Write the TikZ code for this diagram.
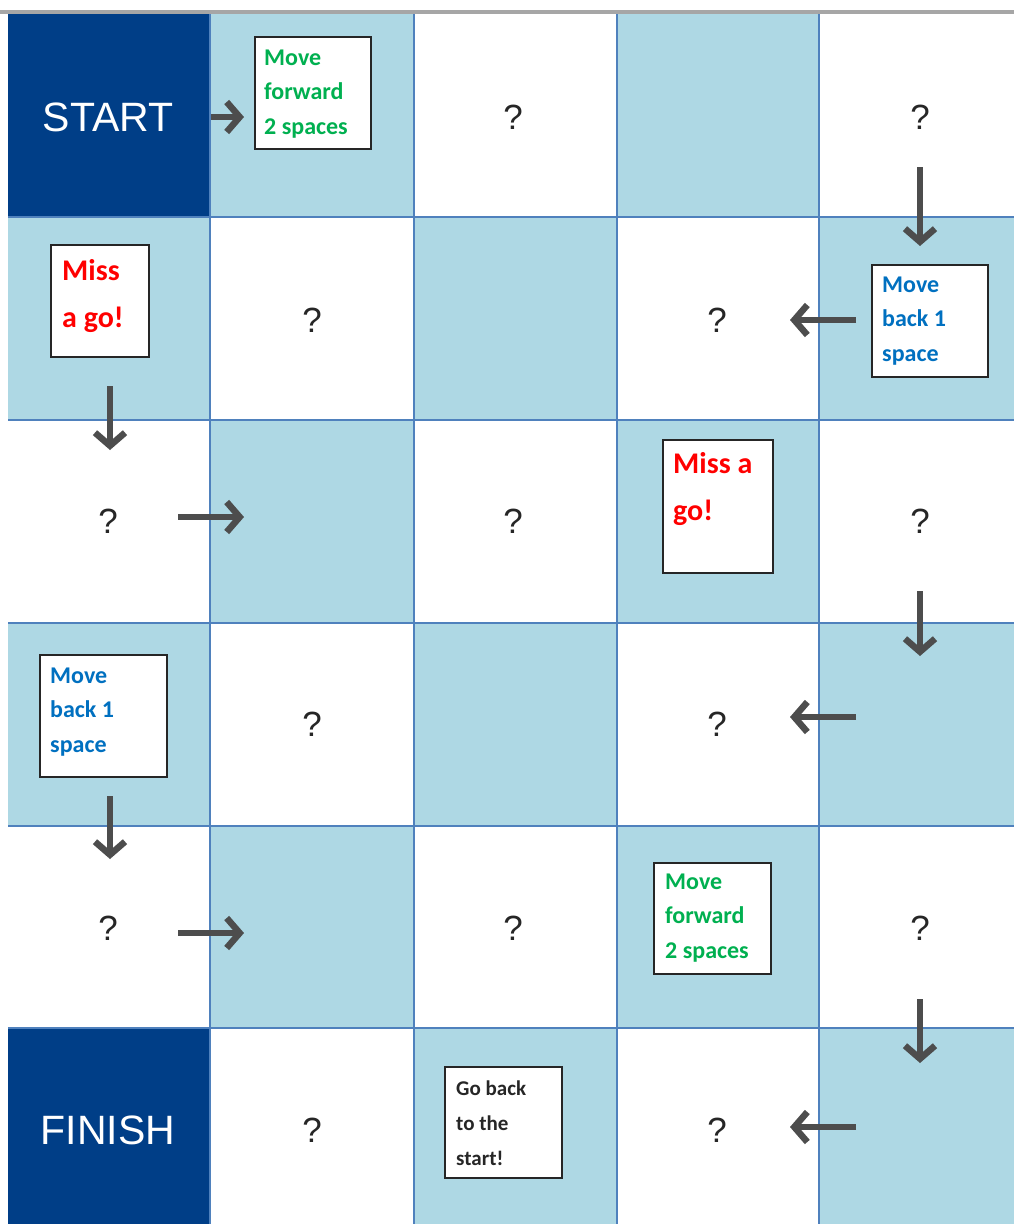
\documentclass[tikz,border=0pt]{standalone}
\usepackage{fontspec}
\setmainfont{Liberation Sans}
\newfontfamily\calfont{Carlito}[BoldFont={Carlito Bold}]
\usetikzlibrary{arrows.meta}
\definecolor{lightcell}{RGB}{174,216,228}
\definecolor{darkcell}{RGB}{0,62,135}
\definecolor{gridblue}{RGB}{79,129,189}
\definecolor{arrowgray}{RGB}{77,77,77}
\definecolor{cgreen}{RGB}{0,176,80}
\definecolor{cblue}{RGB}{0,112,192}
\definecolor{cred}{RGB}{255,0,0}
\tikzset{
  qmark/.style={font=\fontsize{35}{40}\selectfont, text=black!85, inner sep=0},
  endlabel/.style={font=\fontsize{41}{48}\selectfont, text=white, inner sep=0},
  cardbox/.style={draw=black!85, line width=2pt, fill=white, inner sep=0},
  cardtext/.style={anchor=base west, inner sep=0, text width=120pt, align=flush left,
    font=\calfont\bfseries\fontsize{24}{34.5}\selectfont},
  bigcard/.style={cardtext, font=\calfont\bfseries\fontsize{30}{47}\selectfont},
  movearrow/.style={draw=arrowgray, line width=6.5pt,
    -{Straight Barb[length=13pt, width=30pt]}}
}
\begin{document}
\begin{tikzpicture}[x=1pt, y=-1pt]
\useasboundingbox (0,0) rectangle (1014,1224);
\fill[white] (0,0) rectangle (1014,1224);
% light cells
\foreach \xa/\xb/\ya/\yb in {
  210/414/14/217, 617/819/14/217,
  8/210/217/420, 414/617/217/420, 819/1014/217/420,
  210/414/420/623, 617/819/420/623,
  8/210/623/826, 414/617/623/826, 819/1014/623/826,
  210/414/826/1028, 617/819/826/1028,
  414/617/1028/1224, 819/1014/1028/1224}
  \fill[lightcell] (\xa,\ya) rectangle (\xb,\yb);
% dark cells
\fill[darkcell] (8,14) rectangle (210,217);
\fill[darkcell] (8,1028) rectangle (210,1224);
% grid lines
\foreach \x in {210,414,617,819}
  \draw[gridblue, line width=1.5pt] (\x,14) -- (\x,1224);
\foreach \y in {217,420,623,826,1028}
  \draw[gridblue, line width=1.5pt] (8,\y) -- (1014,\y);
\draw[black!35, line width=3.5pt] (0,12) -- (1014,12);

% start / finish
\node[endlabel] (start) at (108,117) {START};
\node[endlabel] (finish) at (108,1130) {FINISH};

% question marks
\node[qmark] (q02) at (513,117) {?};
\node[qmark] (q04) at (920,117) {?};
\node[qmark] (q11) at (312,320) {?};
\node[qmark] (q13) at (717,320) {?};
\node[qmark] (q20) at (108,521) {?};
\node[qmark] (q22) at (513,521) {?};
\node[qmark] (q24) at (920,521) {?};
\node[qmark] (q31) at (312,724) {?};
\node[qmark] (q33) at (717,724) {?};
\node[qmark] (q40) at (108,928) {?};
\node[qmark] (q42) at (513,928) {?};
\node[qmark] (q44) at (920,928) {?};
\node[qmark] (q51) at (312,1130) {?};
\node[qmark] (q53) at (717,1130) {?};

% cards
\node[cardbox, minimum width=116, minimum height=112] (b1) at (313,93) {};
\node[cardtext, text=cgreen] (t1) at (264,65) {Move\\forward\\2 spaces};

\node[cardbox, minimum width=116, minimum height=112] (b2) at (930,321) {};
\node[cardtext, text=cblue] (t2) at (882,292) {Move\\back 1\\space};

\node[cardbox, minimum width=98, minimum height=112] (b3) at (100,301) {};
\node[bigcard, text=cred] (t3) at (62,280) {Miss\\a go!};

\node[cardbox, minimum width=110, minimum height=133] (b4) at (718,506.5) {};
\node[bigcard, text=cred] (t4) at (673,473) {Miss a\\go!};

\node[cardbox, minimum width=127, minimum height=122] (b5) at (103.5,716) {};
\node[cardtext, text=cblue] (t5) at (50,683) {Move\\back 1\\space};

\node[cardbox, minimum width=117, minimum height=111] (b6) at (712.5,918.5) {};
\node[cardtext, text=cgreen] (t6) at (665,889) {Move\\forward\\2 spaces};

\node[cardbox, minimum width=117, minimum height=111] (b7) at (503.5,1122.5) {};
\node[cardtext, text=black!85, font=\calfont\bfseries\fontsize{21}{35}\selectfont] (t7) at (456,1095) {Go back\\to the\\start!};

% arrows
\coordinate (a1s) at (211,117);  \coordinate (a1e) at (244,117);
\coordinate (a2s) at (920,167);  \coordinate (a2e) at (920,246);
\coordinate (a3s) at (856,320);  \coordinate (a3e) at (790,320);
\coordinate (a4s) at (110,386);  \coordinate (a4e) at (110,450);
\coordinate (a5s) at (178,517);  \coordinate (a5e) at (244,517);
\coordinate (a6s) at (920,591);  \coordinate (a6e) at (920,656);
\coordinate (a7s) at (856,717);  \coordinate (a7e) at (790,717);
\coordinate (a8s) at (110,796);  \coordinate (a8e) at (110,859);
\coordinate (a9s) at (178,933);  \coordinate (a9e) at (244,933);
\coordinate (a10s) at (920,999); \coordinate (a10e) at (920,1063);
\coordinate (a11s) at (856,1127); \coordinate (a11e) at (790,1127);
\foreach \i in {1,...,11}
  \draw[movearrow] (a\i s) -- (a\i e);
\end{tikzpicture}
\end{document}
